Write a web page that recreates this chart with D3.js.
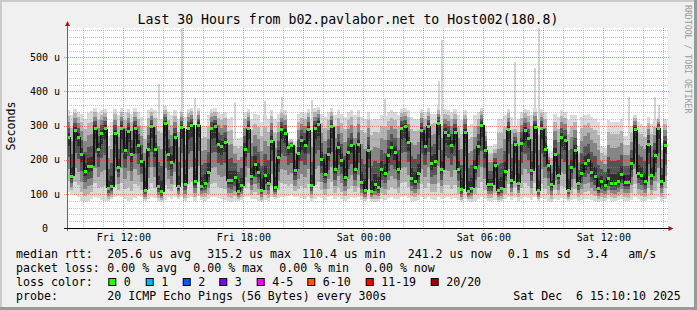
<!DOCTYPE html>
<html lang="en">
<head>
<meta charset="UTF-8">
<script src="https://cdnjs.cloudflare.com/ajax/libs/d3/7.8.5/d3.min.js"></script>
<style>
    body { margin: 0; background: #f0f0f0; }
    svg { display: block; font-family: "DejaVu Sans Mono", monospace; }
    text { white-space: pre; }
</style>
</head>
<body>
<svg id="chart" width="697" height="310"></svg>
<script>
    // 30 hours of 10 minute steps, Fri 09:10 -> Sat 15:10
    var start = new Date(2025, 11, 5, 9, 10);
    var end = new Date(2025, 11, 6, 15, 10);
    var stepMin = 10;

    // median rtt per step (us)
    var median = [
        266,151,286,266,216,166,181,181,291,231,276,291,116,121,276,178,291,226,284,216,291,241,196,111,231,296,231,121,106,306,216,191,266,
        121,294,128,291,301,136,301,121,131,163,291,298,246,238,250,138,138,148,106,124,231,291,151,186,163,111,154,131,254,118,208,288,278,
        236,243,168,218,256,243,288,124,291,304,201,158,216,296,171,236,198,148,221,243,171,246,134,111,226,108,126,118,171,161,211,236,221,
        171,291,296,251,146,136,161,286,238,298,188,196,306,171,281,271,241,281,171,113,281,106,116,176,239,301,228,126,126,184,109,116,166,
        288,138,246,131,248,286,261,168,294,109,291,231,184,126,214,154,266,256,111,176,226,131,161,188,198,164,151,116,136,124,146,131,131,
        136,156,133,133,188,288,159,153,136,244,153,211,292,136,241
    ];
    // fastest ping per step (us)
    var smokeLo = [
        105,100,98,90,78,76,80,85,92,88,82,80,78,85,90,95,92,86,80,82,88,94,90,78,84,92,88,80,76,82,90,86,92,
        84,90,78,88,92,80,95,82,80,85,90,92,88,86,82,78,76,80,78,82,90,92,84,86,80,76,82,78,90,84,88,92,90,
        95,100,92,90,88,84,90,80,86,92,88,82,90,94,86,90,84,80,86,92,88,90,82,78,86,80,76,78,84,82,88,90,86,
        84,92,95,88,80,78,82,90,86,92,84,82,90,86,88,90,84,88,82,76,86,78,76,80,86,92,84,80,78,82,76,78,84,
        90,82,88,80,86,92,88,82,90,78,88,84,80,76,86,82,88,86,78,82,86,80,82,84,86,82,80,76,78,80,84,80,78,
        82,86,80,78,82,90,84,80,78,86,82,84,90,80,86
    ];
    // slowest regular ping per step (us)
    var smokeHi = [
        345,330,350,340,335,320,338,342,352,336,345,350,270,310,348,330,352,340,350,335,352,340,325,300,345,352,345,325,320,356,340,330,345,
        320,350,325,348,352,330,352,300,300,330,348,352,340,335,340,320,325,265,265,268,340,350,320,335,330,310,330,320,345,318,335,348,345,
        258,260,255,335,340,338,350,320,352,355,335,325,340,352,330,345,335,325,340,345,330,345,325,320,340,315,320,318,330,328,340,345,340,
        330,350,352,345,325,320,320,348,340,352,335,335,356,330,348,345,340,348,330,315,345,300,305,330,340,352,300,240,240,245,320,320,330,
        348,325,300,320,340,348,345,330,352,315,350,340,225,225,335,325,345,340,315,330,330,240,325,330,335,325,320,310,240,235,315,310,310,
        312,318,270,270,300,330,310,305,300,325,305,318,325,250,320
    ];
    // occasional slow outliers
    var spikeStep = [27, 34, 38, 50, 59, 64, 73, 95, 111, 112, 134, 140, 141, 168, 176, 177];
    var spikeMax  = [422, 586, 380, 370, 373, 384, 375, 378, 430, 551, 487, 470, 586, 384, 384, 360];

    var yTicks = [0, 100, 200, 300, 400, 500];
    var rttLegend = ["205.6 us avg", "315.2 us max", "110.4 us min", "241.2 us now", "0.1 ms sd", "3.4", "am/s"];
    var lossLegend = ["0.00 % avg", "0.00 % max", "0.00 % min", "0.00 % now"];
    var lossLabels = ["0", "1", "2", "3", "4-5", "6-10", "11-19", "20/20"];
    var lossColors = ["#26ff00", "#00b8ff", "#0059ff", "#7e00ff", "#ff00ff", "#ff5500", "#ff0000", "#a10000"];
    var probeText = "20 ICMP Echo Pings (56 Bytes) every 300s";
    var stampText = "Sat Dec  6 15:10:10 2025";
    var title = "Last 30 Hours from b02.pavlabor.net to Host002(180.8)";

    var svg = d3.select("#chart");
    var W = 697, H = 310;
    var plotL = 66.7, plotR = 666.7, plotT = 28, plotB = 228;

    var x = d3.scaleTime().domain([start, end]).range([plotL, plotR]);
    var y = d3.scaleLinear().domain([0, 586]).range([plotB, plotT]);

    // frame
    svg.append("rect").attr("width", W).attr("height", H).attr("fill", "#f0f0f0");
    svg.append("rect").attr("x", 0).attr("y", 0).attr("width", W).attr("height", 2).attr("fill", "#cbcbcb");
    svg.append("rect").attr("x", 0).attr("y", 0).attr("width", 2).attr("height", H).attr("fill", "#cbcbcb");
    svg.append("rect").attr("x", 0).attr("y", H - 3).attr("width", W).attr("height", 3).attr("fill", "#999");
    svg.append("rect").attr("x", W - 3).attr("y", 0).attr("width", 3).attr("height", H).attr("fill", "#999");

    // canvas
    svg.append("rect").attr("x", 67).attr("y", plotT).attr("width", 601).attr("height", plotB - plotT).attr("fill", "#fff");

    var steps = median.map(function (m, i) {
        var t0 = d3.timeMinute.offset(start, i * stepMin);
        return {i: i, t0: t0, t1: d3.timeMinute.offset(t0, stepMin), med: m, lo: smokeLo[i], hi: smokeHi[i]};
    });

    // smoke: lighter outside, darker towards the median
    var shades = [
        {f: 0, c: "#dadada"},
        {f: 0.2, c: "#b4b4b4"},
        {f: 0.42, c: "#858585"},
        {f: 0.64, c: "#545454"},
        {f: 0.84, c: "#303030"}
    ];
    var smoke = svg.append("g").attr("shape-rendering", "crispEdges");

    smoke.selectAll("rect.spike")
        .data(spikeStep.map(function (s, k) { return {s: steps[s], max: spikeMax[k]}; }))
        .enter().append("rect")
        .attr("class", "spike")
        .attr("x", function (d) { return x(d.s.t0) + 1; })
        .attr("width", 2)
        .attr("y", function (d) { return y(d.max); })
        .attr("height", function (d) { return y(d.s.hi) - y(d.max); })
        .attr("fill", "#d4d4d4");

    shades.forEach(function (sh) {
        smoke.append("g").selectAll("rect")
            .data(steps)
            .enter().append("rect")
            .attr("x", function (d) { return x(d.t0); })
            .attr("width", function (d) { return x(d.t1) - x(d.t0); })
            .attr("y", function (d) { return y(d.hi - sh.f * (d.hi - d.med)); })
            .attr("height", function (d) {
                return y(d.lo + sh.f * (d.med - d.lo)) - y(d.hi - sh.f * (d.hi - d.med));
            })
            .attr("fill", sh.c);
    });

    // grid (dotted, drawn over the smoke like rrdtool does)
    var grid = svg.append("g").attr("fill", "none").attr("shape-rendering", "crispEdges");
    var minorY = d3.range(20, 586, 20).filter(function (v) { return v % 100 !== 0; });
    var majorY = d3.range(100, 586, 100);
    var minorCol = "rgba(140,140,140,0.5)", majorCol = "rgba(255,20,20,0.45)";
    grid.selectAll("line.hmin").data(minorY).enter().append("line")
        .attr("x1", 67).attr("x2", 669)
        .attr("y1", function (d) { return Math.round(y(d)) + 0.5; })
        .attr("y2", function (d) { return Math.round(y(d)) + 0.5; })
        .attr("stroke", minorCol).attr("stroke-dasharray", "1,1");
    var hours = d3.timeHour.range(start, end);
    grid.selectAll("line.vmin").data(hours.filter(function (h) { return h.getHours() % 3 !== 0; }))
        .enter().append("line")
        .attr("x1", function (d) { return Math.round(x(d)) + 0.5; })
        .attr("x2", function (d) { return Math.round(x(d)) + 0.5; })
        .attr("y1", plotT).attr("y2", plotB)
        .attr("stroke", minorCol).attr("stroke-dasharray", "1,1");
    grid.selectAll("line.hmaj").data(majorY).enter().append("line")
        .attr("x1", 64).attr("x2", 669)
        .attr("y1", function (d) { return Math.round(y(d)) + 0.5; })
        .attr("y2", function (d) { return Math.round(y(d)) + 0.5; })
        .attr("stroke", majorCol).attr("stroke-dasharray", "1,1");
    grid.selectAll("line.vmaj").data(hours.filter(function (h) { return h.getHours() % 3 === 0; }))
        .enter().append("line")
        .attr("x1", function (d) { return Math.round(x(d)) + 0.5; })
        .attr("x2", function (d) { return Math.round(x(d)) + 0.5; })
        .attr("y1", plotT).attr("y2", plotB + 3)
        .attr("stroke", majorCol).attr("stroke-dasharray", "1,1");

    // median: dark connectors + green loss-coloured marks
    var med = svg.append("g").attr("shape-rendering", "crispEdges");
    med.selectAll("line").data(steps.slice(1)).enter().append("line")
        .attr("x1", function (d) { return x(d.t0) + 0.5; })
        .attr("x2", function (d) { return x(d.t0) + 0.5; })
        .attr("y1", function (d) { return y(median[d.i - 1]); })
        .attr("y2", function (d) { return y(d.med); })
        .attr("stroke", "#151515").attr("stroke-width", 1.6);
    med.selectAll("rect").data(steps).enter().append("rect")
        .attr("x", function (d) { return x(d.t0) + 0.4; })
        .attr("width", 3)
        .attr("y", function (d) { return y(d.med) - 1.5; })
        .attr("height", 3)
        .attr("fill", lossColors[0]);

    // axes
    svg.append("line").attr("x1", 67.5).attr("x2", 67.5).attr("y1", 25).attr("y2", plotB + 3)
        .attr("stroke", "#666");
    svg.append("line").attr("x1", 64).attr("x2", 669).attr("y1", plotB + 0.5).attr("y2", plotB + 0.5)
        .attr("stroke", "#000");
    svg.append("path").attr("d", "M668.5,226L668.5,231L673.5,228.5Z").attr("fill", "#9a1c1c");
    svg.append("path").attr("d", "M65,26L70,26L67.5,21Z").attr("fill", "#9a1c1c");

    var xAxis = svg.append("g").attr("transform", "translate(0," + plotB + ")")
        .call(d3.axisBottom(x).ticks(d3.timeHour.every(6)).tickFormat(d3.timeFormat("%a %H:%M"))
            .tickSize(0).tickPadding(6));
    xAxis.select(".domain").remove();
    xAxis.selectAll("text").attr("font-family", "DejaVu Sans Mono").attr("font-size", 10).attr("fill", "#000");

    var yAxis = svg.append("g").attr("transform", "translate(60,0)")
        .call(d3.axisLeft(y).tickValues(yTicks).tickFormat(function (d) { return d === 0 ? "0" : d + " u"; })
            .tickSize(0).tickPadding(0));
    yAxis.select(".domain").remove();
    yAxis.selectAll("text").attr("font-family", "DejaVu Sans Mono").attr("font-size", 10).attr("fill", "#000")
        .attr("x", function (d) { return d === 0 ? -12 : 0; });

    // titles
    svg.append("text").attr("x", 348).attr("y", 24).attr("text-anchor", "middle")
        .attr("font-size", 13.2).text(title);
    svg.append("text").attr("transform", "translate(15,126) rotate(-90)").attr("text-anchor", "middle")
        .attr("font-size", 11.6).text("Seconds");
    svg.append("text").attr("transform", "translate(685,5) rotate(90)")
        .attr("font-size", 8.2).attr("fill", "#999").text("RRDTOOL / TOBI OETIKER");

    // legend
    var lg = svg.append("g").attr("font-size", 11.6).attr("fill", "#000");
    var rows = [258, 272, 286, 300];
    ["median rtt:", "packet loss:", "loss color:", "probe:"].forEach(function (t, k) {
        lg.append("text").attr("x", 16).attr("y", rows[k]).text(t);
    });
    var rttX = [107.3, 207.3, 302, 407.7, 507.7, 586.7, 628.3];
    lg.selectAll("text.rtt").data(rttLegend).enter().append("text")
        .attr("x", function (d, k) { return rttX[k]; }).attr("y", rows[0]).text(function (d) { return d; });
    var lossX = [107.3, 193.3, 279.3, 365];
    lg.selectAll("text.loss").data(lossLegend).enter().append("text")
        .attr("x", function (d, k) { return lossX[k]; }).attr("y", rows[1]).text(function (d) { return d; });
    var boxX = [108.3, 145.7, 182.7, 219.3, 256.7, 307.3, 365.7, 430.7];
    lg.selectAll("rect.lc").data(lossColors).enter().append("rect")
        .attr("x", function (d, k) { return boxX[k] + 0.5; }).attr("y", 278.5)
        .attr("width", 7).attr("height", 7)
        .attr("fill", function (d) { return d; }).attr("stroke", "#000");
    lg.selectAll("text.lc").data(lossLabels).enter().append("text")
        .attr("x", function (d, k) { return boxX[k] + 15.5; }).attr("y", rows[2]).text(function (d) { return d; });
    lg.append("text").attr("x", 107.3).attr("y", rows[3]).text(probeText);
    lg.append("text").attr("x", 513.3).attr("y", rows[3]).text(stampText);
</script>
</body>
</html>
